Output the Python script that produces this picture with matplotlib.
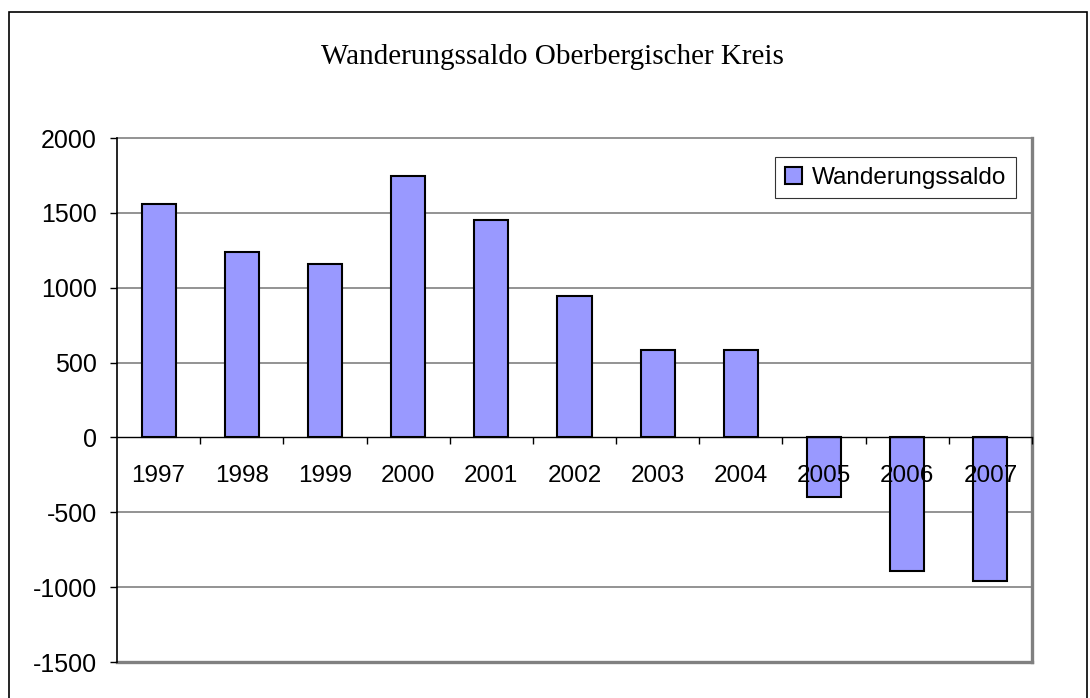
import matplotlib
matplotlib.use('Agg')
import matplotlib.pyplot as plt
from matplotlib.patches import Rectangle

'''Wanderungssaldo Oberbergischer Kreis'''

years = ['1997', '1998', '1999', '2000', '2001', '2002', '2003', '2004', '2005', '2006', '2007']
saldo = [1560, 1240, 1160, 1747, 1453, 947, 587, 587, -400, -893, -960]
y_ticks = [-1500, -1000, -500, 0, 500, 1000, 1500, 2000]

W, H = 1090, 698
fig = plt.figure(figsize=(W / 100, H / 100), dpi=100)
fig.patch.set_facecolor('white')

# outer chart frame
fig.patches.append(Rectangle((9 / W, -0.05), (1087 - 9) / W, 1.05 - 12 / H,
                             transform=fig.transFigure, fill=False,
                             edgecolor='black', linewidth=1.2))

left, right, top, bottom = 117, 1032, 138, 662
ax = fig.add_axes([left / W, 1 - bottom / H, (right - left) / W, (bottom - top) / H])

x = list(range(len(years)))
ax.bar(x, saldo, width=0.41, color='#9999FF', edgecolor='black', linewidth=1.5,
       label='Wanderungssaldo', zorder=2)

# gridlines behind the bars
for v in y_ticks:
    lw = 2.4 if v == -1500 else 1.2
    if v != 0:
        ax.axhline(v, color='#808080', linewidth=lw, zorder=0.5, clip_on=False)

ax.spines['bottom'].set_position(('data', 0))
ax.spines['bottom'].set_color('black')
ax.spines['bottom'].set_linewidth(1.0)
ax.spines['left'].set_color('black')
ax.spines['left'].set_linewidth(1.2)
ax.spines['right'].set_color('#808080')
ax.spines['right'].set_linewidth(2.4)
ax.spines['top'].set_visible(False)
ax.set_axisbelow(False)

ax.set_xlim(-0.5, len(years) - 0.5)
ax.set_ylim(-1500, 2000)
ax.set_yticks(y_ticks)
ax.set_yticklabels([str(v) for v in y_ticks])
ax.set_xticks(x)
ax.set_xticklabels(years)
ax.set_xticks([i + 0.5 for i in x], minor=True)
ax.tick_params(axis='x', which='major', length=0, pad=20, labelsize=17.5, labelfontfamily='Liberation Sans')
ax.tick_params(axis='x', which='minor', length=5, direction='out', color='black', width=1)
ax.tick_params(axis='y', length=5, direction='out', color='black', width=1, pad=9.5,
               labelsize=18, labelfontfamily='Liberation Sans')

leg = ax.legend(loc='upper right', bbox_to_anchor=((1016 - left) / (right - left), 1 - (157 - top) / (bottom - top)),
                prop={'family': 'Liberation Sans', 'size': 17.5}, frameon=True, fancybox=False,
                edgecolor='black', borderpad=0.4, handlelength=0.7, handleheight=0.7,
                handletextpad=0.4, borderaxespad=0)
leg.get_frame().set_linewidth(0.8)

fig.text(552 / W, 1 - 57 / H, 'Wanderungssaldo Oberbergischer Kreis', ha='center', va='center',
         fontfamily='Liberation Serif', fontsize=21)

fig.savefig('out.png', dpi=100)
